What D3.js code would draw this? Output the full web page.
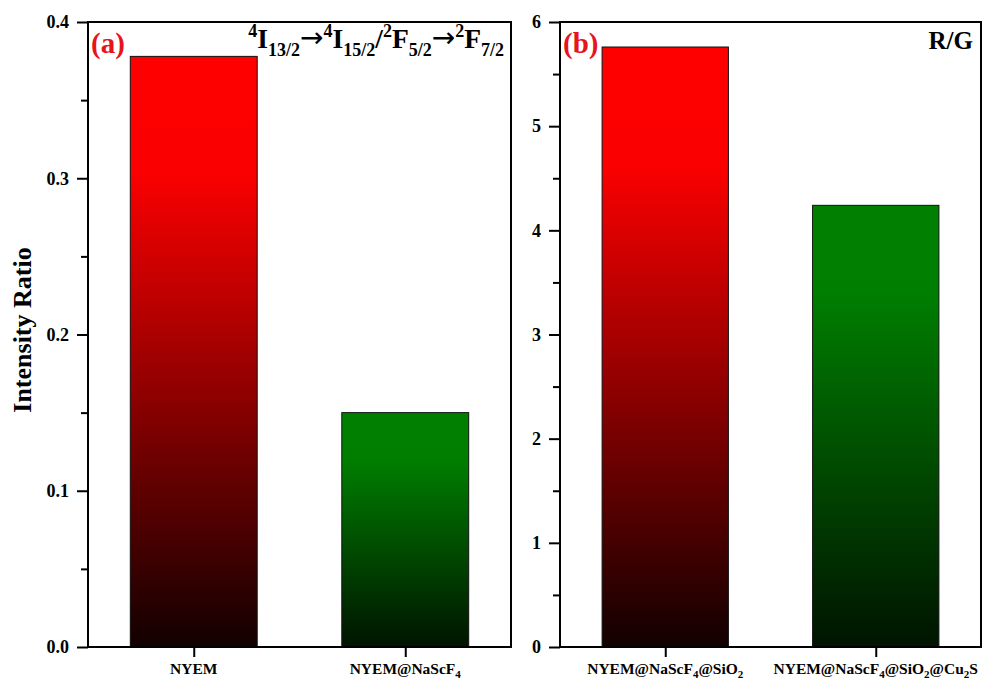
<!DOCTYPE html>
<html>
<head>
<meta charset="utf-8">
<script src="https://cdn.jsdelivr.net/npm/d3@7"></script>
<style>
  html, body { margin: 0; padding: 0; background: #fff; }
  svg { display: block; }
  text { font-family: "Liberation Serif", "Times New Roman", serif; font-weight: bold; }
</style>
</head>
<body>
<svg id="chart" width="983" height="679"></svg>
<script>
// ---- data ----
const categoriesA = ["NYEM", "NYEM@NaScF4"];
const valuesA = [0.378, 0.150];
const categoriesB = ["NYEM@NaScF4@SiO2", "NYEM@NaScF4@SiO2@Cu2S"];
const valuesB = [5.76, 4.24];
const barColors = ["red", "green"];
const ticksA = [0, 0.1, 0.2, 0.3, 0.4];
const minorTicksA = [0.05, 0.15, 0.25, 0.35];
const ticksB = [0, 1, 2, 3, 4, 5, 6];
const minorTicksB = [0.5, 1.5, 2.5, 3.5, 4.5, 5.5];
const yLabel = "Intensity Ratio";

const svg = d3.select("#chart");
const defs = svg.append("defs");
const gradStops = {
  red: ["#ff0000", "#fa0000", "#120000"],
  green: ["#008000", "#007e00", "#001400"]
};
Object.entries(gradStops).forEach(([k, c]) => {
  const g = defs.append("linearGradient").attr("id", "grad-" + k)
    .attr("x1", 0).attr("y1", 0).attr("x2", 0).attr("y2", 1);
  g.append("stop").attr("offset", 0).attr("stop-color", c[0]);
  g.append("stop").attr("offset", 0.2).attr("stop-color", c[1]);
  g.append("stop").attr("offset", 1).attr("stop-color", c[2]);
});

const plotTop = 22, plotBottom = 647;

function addLabelText(sel, label, mainSize, subSize) {
  const parts = label.split(/(\d+)/).filter(s => s.length);
  let sub = false;
  parts.forEach(p => {
    const isDigit = /^\d+$/.test(p);
    const t = sel.append("tspan").text(p);
    if (isDigit) {
      t.attr("font-size", subSize).attr("dy", sub ? 0 : 4);
      sub = true;
    } else {
      t.attr("font-size", mainSize).attr("dy", sub ? -4 : 0);
      sub = false;
    }
  });
}

function panel(cfg) {
  const g = svg.append("g");
  const x = d3.scaleBand().domain(cfg.cats).range([cfg.left, cfg.right])
    .paddingInner(0.4).paddingOuter(0.2);
  const y = d3.scaleLinear().domain(cfg.domain).range([plotBottom, plotTop]);

  // bars
  g.selectAll("rect.bar").data(cfg.vals).join("rect")
    .attr("class", "bar")
    .attr("x", (d, i) => x(cfg.cats[i]))
    .attr("width", x.bandwidth())
    .attr("y", d => y(d))
    .attr("height", d => y(0) - y(d))
    .attr("fill", (d, i) => "url(#grad-" + barColors[i] + ")")
    .attr("stroke", "#111")
    .attr("stroke-width", 1);

  // y axis major
  const yAxis = d3.axisLeft(y).tickValues(cfg.ticks).tickFormat(cfg.fmt)
    .tickSize(11).tickPadding(8);
  const ya = g.append("g").attr("transform", `translate(${cfg.left},0)`).call(yAxis);
  ya.select(".domain").remove();
  ya.selectAll(".tick line").attr("stroke", "#000").attr("stroke-width", 2);
  ya.selectAll(".tick text").attr("font-size", 18).attr("fill", "#000")
    .style("font-family", '"Liberation Serif", serif').style("font-weight", "bold");
  // y axis minor
  const yMinor = d3.axisLeft(y).tickValues(cfg.minor).tickFormat("").tickSize(7);
  const ym = g.append("g").attr("transform", `translate(${cfg.left},0)`).call(yMinor);
  ym.select(".domain").remove();
  ym.selectAll(".tick line").attr("stroke", "#000").attr("stroke-width", 2);

  // x axis ticks
  const xc = d3.scalePoint().domain(cfg.cats).range([cfg.left, cfg.right]).padding(0.5);
  const xAxis = d3.axisBottom(xc).tickSize(10).tickFormat("");
  const xa = g.append("g").attr("transform", `translate(0,${plotBottom})`).call(xAxis);
  xa.select(".domain").remove();
  xa.selectAll(".tick line").attr("stroke", "#000").attr("stroke-width", 2);

  // category labels with subscripts
  cfg.cats.forEach(c => {
    const t = g.append("text").attr("x", xc(c)).attr("y", 674)
      .attr("text-anchor", "middle").attr("fill", "#000");
    addLabelText(t, c, 15.5, 11);
  });

  // frame
  g.append("rect").attr("x", cfg.left).attr("y", plotTop)
    .attr("width", cfg.right - cfg.left).attr("height", plotBottom - plotTop)
    .attr("fill", "none").attr("stroke", "#000").attr("stroke-width", 2);

  // panel tag
  g.append("text").attr("x", cfg.left + 3).attr("y", 53)
    .attr("font-size", 29).attr("fill", "#e8141c").text(cfg.tag);
  return g;
}

panel({ cats: categoriesA, vals: valuesA, left: 88, right: 511, domain: [0, 0.4],
  ticks: ticksA, minor: minorTicksA, fmt: d3.format(".1f"), tag: "(a)" });
panel({ cats: categoriesB, vals: valuesB, left: 560, right: 981, domain: [0, 6],
  ticks: ticksB, minor: minorTicksB, fmt: d3.format("d"), tag: "(b)" });

// annotation in (a)
const ann = svg.append("text").attr("x", 504).attr("y", 48)
  .attr("text-anchor", "end").attr("fill", "#000");
const annParts = [
  ["4", "sup"], ["I", "m"], ["13/2", "sub"], ["\u2192", "arr"],
  ["4", "sup"], ["I", "m"], ["15/2", "sub"], ["/", "m"],
  ["2", "sup"], ["F", "m"], ["5/2", "sub"], ["\u2192", "arr"],
  ["2", "sup"], ["F", "m"], ["7/2", "sub"]
];
let level = 0;
annParts.forEach(([s, k]) => {
  const target = k === "sup" ? -11 : k === "sub" ? 8 : (k === "arr" ? -1 : 0);
  const t = ann.append("tspan").text(s)
    .attr("font-size", k === "m" ? 27.5 : k === "arr" ? 28 : 18)
    .attr("dy", target - level);
  if (k === "arr") t.style("font-family", '"DejaVu Sans", sans-serif').style("font-weight", "normal");
  level = target;
});

// R/G in (b)
svg.append("text").attr("x", 973).attr("y", 49).attr("text-anchor", "end")
  .attr("font-size", 25).attr("fill", "#000").text("R/G");

// y label
svg.append("text").attr("transform", "translate(31,330) rotate(-90)")
  .attr("text-anchor", "middle").attr("font-size", 26).attr("fill", "#000").text(yLabel);
</script>
</body>
</html>
